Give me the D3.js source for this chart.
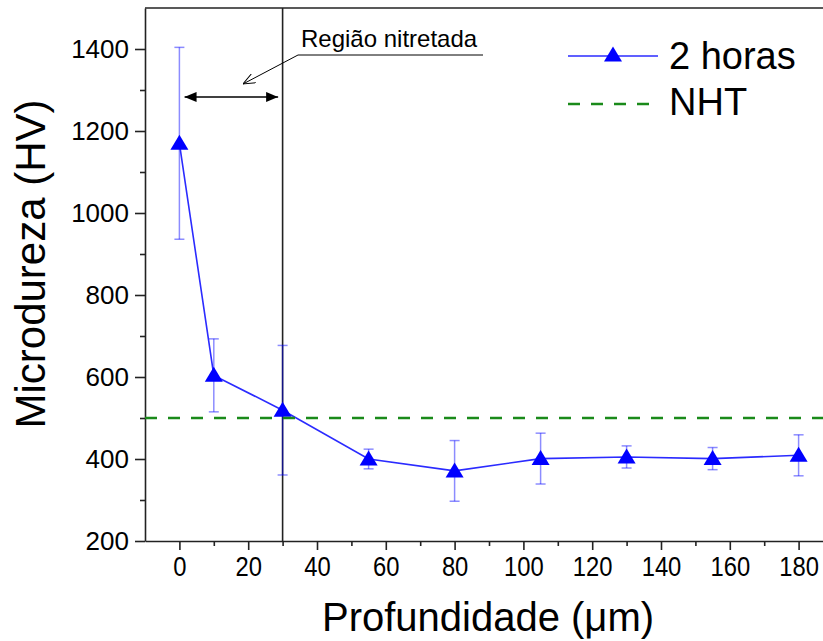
<!DOCTYPE html>
<html>
<head>
<meta charset="utf-8">
<script src="https://cdn.jsdelivr.net/npm/d3@7/dist/d3.min.js"></script>
<style>
body { margin: 0; background: #fff; }
svg text { font-family: Arial, "Liberation Sans", sans-serif; fill: #000; }
</style>
</head>
<body>
<div id="chart"></div>
<script>
// data
const depth = [0, 10, 30, 55, 80, 105, 130, 155, 180];
const hardness = [1170, 604, 519, 400, 371, 401, 405, 401, 409];
const hardnessErr = [234, 89, 158, 24, 74, 62, 27, 27, 50];
const nhtValue = 500;
const xTicks = [0, 20, 40, 60, 80, 100, 120, 140, 160, 180];
const xMinor = [10, 30, 50, 70, 90, 110, 130, 150, 170];
const yTicks = [200, 400, 600, 800, 1000, 1200, 1400];
const yMinor = [300, 500, 700, 900, 1100, 1300];
const boundaryDepth = 30;
const regionArrow = [1.5, 28.7];   // depth range of the double arrow
const regionArrowY = 1283;
const legendLabels = ["2 horas", "NHT"];

const W = 823, H = 641;
const svg = d3.select("#chart").append("svg")
    .attr("width", W)
    .attr("height", H);

const x = d3.scaleLinear().domain([-10, 190]).range([145, 833]);
const y = d3.scaleLinear().domain([200, 1500]).range([541, 8]);

// vertical boundary line
svg.append("line")
    .attr("x1", x(boundaryDepth)).attr("x2", x(boundaryDepth))
    .attr("y1", y(1500)).attr("y2", y(200))
    .attr("stroke", "#222").attr("stroke-width", 1.6);

// axes
let xAxis = svg.append("g")
    .attr("transform", "translate(0," + y(200) + ")")
    .call(d3.axisBottom(x).tickValues(xTicks).tickSize(9).tickSizeOuter(0).tickPadding(6));
svg.append("g")
    .attr("transform", "translate(0," + y(200) + ")")
    .call(d3.axisBottom(x).tickValues(xMinor).tickSize(5).tickFormat(""))
    .call(g => g.select(".domain").remove());
xAxis.selectAll("text")
    .style("font-size", "28px")
    .attr("transform", "scale(0.85,1)");

let yAxis = svg.append("g")
    .attr("transform", "translate(" + x(-10) + ",0)")
    .call(d3.axisLeft(y).tickValues(yTicks).tickFormat(d3.format("d"))
        .tickSize(10).tickSizeOuter(0).tickPadding(6));
svg.append("g")
    .attr("transform", "translate(" + x(-10) + ",0)")
    .call(d3.axisLeft(y).tickValues(yMinor).tickSize(5).tickFormat(""))
    .call(g => g.select(".domain").remove());
yAxis.selectAll("text").style("font-size", "26px");

svg.selectAll(".domain, .tick line").attr("stroke", "#222").attr("stroke-width", 1.6);

// top frame
svg.append("line")
    .attr("x1", x(-10)).attr("x2", W)
    .attr("y1", y(1500)).attr("y2", y(1500))
    .attr("stroke", "#222").attr("stroke-width", 1.6);

// error bars
let rows = depth.map((d, i) => ({d: d, v: hardness[i], e: hardnessErr[i]}));
let eb = svg.append("g")
    .attr("stroke", "#0000ff").attr("stroke-opacity", 0.45).attr("stroke-width", 1.5);
rows.forEach(r => {
    eb.append("line").attr("x1", x(r.d)).attr("x2", x(r.d))
        .attr("y1", y(r.v + r.e)).attr("y2", y(r.v - r.e));
    [r.v + r.e, r.v - r.e].forEach(v => {
        eb.append("line").attr("x1", x(r.d) - 5).attr("x2", x(r.d) + 5)
            .attr("y1", y(v)).attr("y2", y(v));
    });
});

// series line
svg.append("path")
    .datum(rows)
    .attr("fill", "none")
    .attr("stroke", "#2b2bff")
    .attr("stroke-width", 1.6)
    .attr("d", d3.line().x(r => x(r.d)).y(r => y(r.v)));

const tri = "M0,-8.5L9,6.5L-9,6.5Z";
svg.append("g")
    .selectAll("path")
    .data(rows)
    .enter()
    .append("path")
    .attr("d", tri)
    .attr("transform", r => "translate(" + x(r.d) + "," + y(r.v) + ")")
    .attr("fill", "#0000ff");

// NHT reference line
svg.append("line")
    .attr("x1", x(-10)).attr("x2", W)
    .attr("y1", y(nhtValue)).attr("y2", y(nhtValue))
    .attr("stroke", "#1a8a1a").attr("stroke-width", 2.5)
    .attr("stroke-dasharray", "12,11");

// annotation: double arrow + label
let defs = svg.append("defs");
defs.append("marker").attr("id", "head")
    .attr("viewBox", "0 0 12 10").attr("refX", 12).attr("refY", 5)
    .attr("markerWidth", 12).attr("markerHeight", 10)
    .attr("markerUnits", "userSpaceOnUse").attr("orient", "auto-start-reverse")
    .append("path").attr("d", "M0,0L12,5L0,10Z").attr("fill", "#000");
defs.append("marker").attr("id", "open")
    .attr("viewBox", "0 0 12 10").attr("refX", 12).attr("refY", 5)
    .attr("markerWidth", 12).attr("markerHeight", 10)
    .attr("markerUnits", "userSpaceOnUse").attr("orient", "auto")
    .append("path").attr("d", "M0,0L12,5L0,10").attr("fill", "none").attr("stroke", "#000").attr("stroke-width", 1);

svg.append("line")
    .attr("x1", x(regionArrow[0])).attr("x2", x(regionArrow[1]))
    .attr("y1", y(regionArrowY)).attr("y2", y(regionArrowY))
    .attr("stroke", "#000").attr("stroke-width", 1.6)
    .attr("marker-start", "url(#head)").attr("marker-end", "url(#head)");

let labelX = 298, labelY = 55;
svg.append("line")
    .attr("x1", labelX).attr("y1", labelY)
    .attr("x2", 243).attr("y2", 84)
    .attr("stroke", "#000").attr("stroke-width", 1)
    .attr("marker-end", "url(#open)");
svg.append("line")
    .attr("x1", labelX).attr("x2", 483)
    .attr("y1", labelY).attr("y2", labelY)
    .attr("stroke", "#000").attr("stroke-width", 1);
svg.append("text")
    .attr("x", 301).attr("y", 47)
    .style("font-size", "24px")
    .text("Região nitretada");

// axis titles
svg.append("text")
    .attr("transform", "translate(45,264) rotate(-90)")
    .attr("text-anchor", "middle")
    .style("font-size", "42px")
    .text("Microdureza (HV)");
svg.append("text")
    .attr("x", 488).attr("y", 631)
    .attr("text-anchor", "middle")
    .style("font-size", "40px")
    .text("Profundidade (μm)");

// legend
let lg = svg.append("g");
lg.append("line").attr("x1", 568).attr("x2", 658).attr("y1", 56).attr("y2", 56)
    .attr("stroke", "#2b2bff").attr("stroke-width", 1.6);
lg.append("path").attr("d", tri).attr("transform", "translate(613,55)").attr("fill", "#0000ff");
lg.append("line").attr("x1", 568).attr("x2", 652).attr("y1", 104).attr("y2", 104)
    .attr("stroke", "#1a8a1a").attr("stroke-width", 2.5).attr("stroke-dasharray", "12,11");
lg.selectAll("text")
    .data(legendLabels)
    .enter()
    .append("text")
    .attr("x", 669)
    .attr("y", (d, i) => 69 + i * 46)
    .style("font-size", "38px")
    .text(d => d);
</script>
</body>
</html>
